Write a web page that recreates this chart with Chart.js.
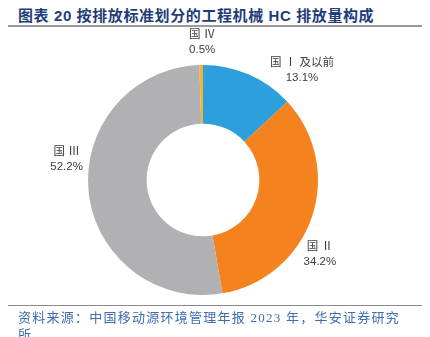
<!DOCTYPE html>
<html>
<head>
<meta charset="utf-8">
<script src="https://cdn.jsdelivr.net/npm/chart.js@4/dist/chart.umd.min.js"></script>
<style>
  html, body { margin: 0; padding: 0; background: #fff; }
  body { width: 430px; height: 337px; position: relative; overflow: hidden; font-family: "Noto Sans CJK SC", "Noto Sans", sans-serif; }
  #chart { position: absolute; left: 0; top: 0; }
  .title {
    position: absolute; left: 18px; top: 4px;
    font-size: 15px; font-weight: bold; color: #1f3d7a; letter-spacing: 0.6px;
    font-family: "Liberation Sans", "Noto Sans CJK SC", sans-serif;
    white-space: nowrap;
  }
  .rule-top { position: absolute; left: 8px; top: 25px; width: 414px; height: 2px; background: #9a9a9a; }
  .rule-bottom { position: absolute; left: 8px; top: 305px; width: 414px; height: 1px; background: #8c8c8c; }
  .source {
    position: absolute; left: 18px; top: 309px; width: 392px;
    font-size: 13px; line-height: 17px; color: #3d6db3; letter-spacing: 1.25px;
    font-family: "Liberation Serif", "Noto Sans CJK SC", serif;
  }
</style>
</head>
<body>
<div class="title">图表 20 按排放标准划分的工程机械 HC 排放量构成</div>
<div class="rule-top"></div>
<canvas id="chart" width="430" height="337"></canvas>
<div class="rule-bottom"></div>
<div class="source">资料来源：中国移动源环境管理年报 2023 年，华安证券研究所</div>
<script>
// emission standard categories, clockwise from 12 o'clock
const categories = ['国 Ⅰ 及以前', '国 Ⅱ', '国 Ⅲ', '国 Ⅳ'];
const shares = [13.1, 34.2, 52.2, 0.5];
const sliceColors = ['#2c9fdc', '#f4821f', '#b1b1b3', '#f5b22c'];
// label nudges away from each slice's outer edge (px)
const labelNudge = [[53, -5], [8, 37], [-22, -33], [1, -23]];

const outsideLabels = {
  id: 'outsideLabels',
  afterDatasetsDraw(chart) {
    const ctx = chart.ctx;
    const meta = chart.getDatasetMeta(0);
    ctx.save();
    ctx.fillStyle = '#404040';
    ctx.font = '11.5px "Liberation Sans", "Noto Sans CJK SC", sans-serif';
    ctx.textAlign = 'center';
    ctx.textBaseline = 'middle';
    meta.data.forEach((arc, i) => {
      const mid = (arc.startAngle + arc.endAngle) / 2;
      const x = arc.x + Math.cos(mid) * arc.outerRadius + labelNudge[i][0];
      const y = arc.y + Math.sin(mid) * arc.outerRadius + labelNudge[i][1];
      ctx.fillText(categories[i], x, y - 7);
      ctx.fillText(shares[i].toFixed(1) + '%', x, y + 8);
    });
    ctx.restore();
  }
};

new Chart(document.getElementById('chart'), {
  type: 'doughnut',
  data: {
    labels: categories,
    datasets: [{
      data: shares,
      backgroundColor: sliceColors,
      borderWidth: 0
    }]
  },
  options: {
    responsive: false,
    animation: false,
    cutout: '49%',
    layout: { padding: { top: 65, bottom: 42, left: 0, right: 24 } },
    plugins: {
      legend: { display: false },
      tooltip: { enabled: false }
    }
  },
  plugins: [outsideLabels]
});
</script>
</body>
</html>
